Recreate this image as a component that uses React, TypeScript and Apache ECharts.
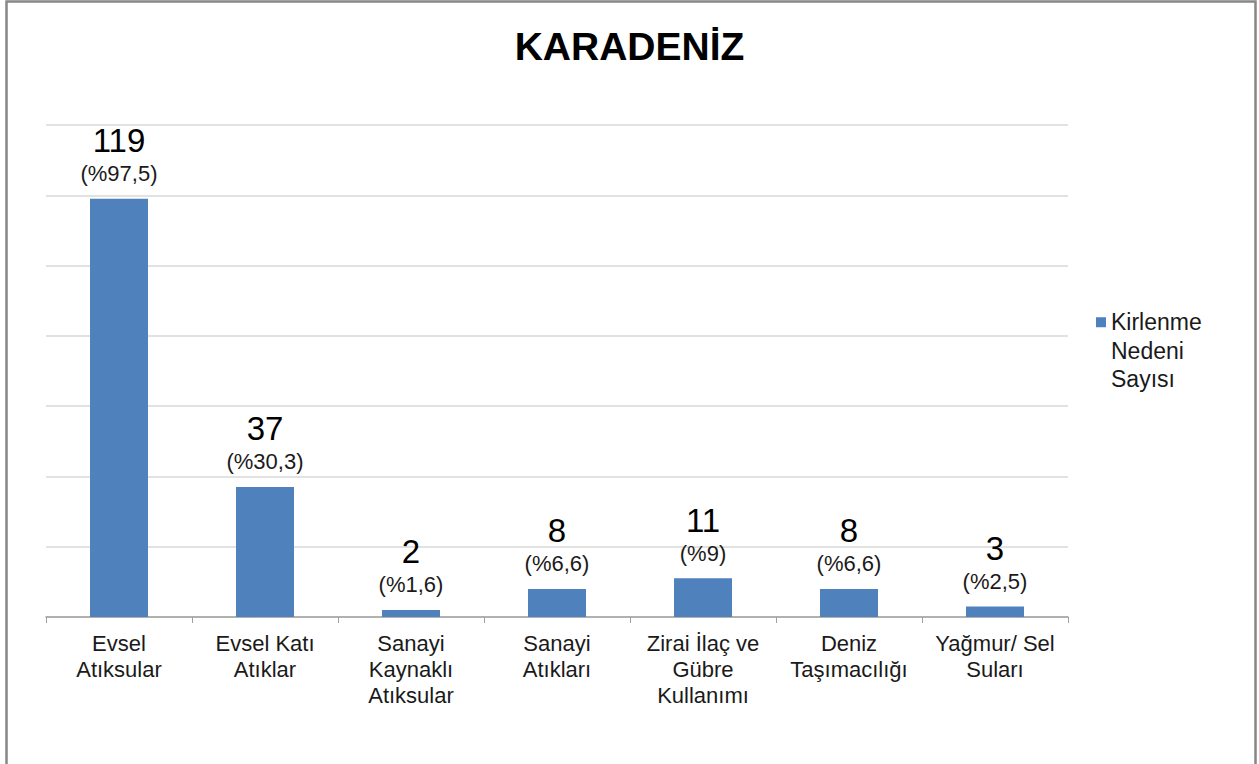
import React, { useEffect, useRef } from "react";
import * as echarts from "echarts";

const categories = [
  "Evsel\nAtıksular",
  "Evsel Katı\nAtıklar",
  "Sanayi\nKaynaklı\nAtıksular",
  "Sanayi\nAtıkları",
  "Zirai İlaç ve\nGübre\nKullanımı",
  "Deniz\nTaşımacılığı",
  "Yağmur/ Sel\nSuları",
];
const counts = [119, 37, 2, 8, 11, 8, 3];
const percents = ["97,5", "30,3", "1,6", "6,6", "9", "6,6", "2,5"];
const seriesName = "Kirlenme Nedeni Sayısı";
const titleText = "KARADENİZ";

export default function App() {
  const ref = useRef<HTMLDivElement>(null);
  useEffect(() => {
    if (!ref.current) return;
    const chart = echarts.init(ref.current, undefined, { renderer: "svg" });
    const font = "'Liberation Sans', Arial, sans-serif";
    chart.setOption({
      animation: false,
      backgroundColor: "#ffffff",
      textStyle: { fontFamily: font },
      title: {
        text: titleText,
        left: "center",
        top: 22,
        textStyle: { fontFamily: font, fontSize: 39, fontWeight: "bold", color: "#000" },
      },
      graphic: [
        {
          type: "rect",
          shape: { x: 6.5, y: 1.5, width: 1249, height: 800 },
          style: { fill: "none", stroke: "#878787", lineWidth: 2.5 },
          silent: true,
        },
      ],
      legend: {
        data: [seriesName],
        left: 1096,
        top: 251,
        padding: 0,
        icon: "rect",
        itemWidth: 10,
        itemHeight: 10,
        formatter: () => "\n\nKirlenme\nNedeni\nSayısı",
        textStyle: { fontFamily: font, fontSize: 23, lineHeight: 28.5, color: "#1a1a1a" },
      },
      grid: { left: 46, right: 191, top: 125, bottom: 147 },
      xAxis: {
        type: "category",
        data: categories,
        axisLine: { lineStyle: { color: "#a0a0a0", width: 1.5 } },
        axisTick: { show: true, length: 6, lineStyle: { color: "#a0a0a0" } },
        axisLabel: {
          interval: 0,
          margin: 13,
          fontFamily: font,
          fontSize: 22,
          lineHeight: 26,
          color: "#1a1a1a",
        },
      },
      yAxis: {
        type: "value",
        min: 0,
        max: 140,
        interval: 20,
        axisLabel: { show: false },
        axisLine: { show: false },
        axisTick: { show: false },
        splitLine: { lineStyle: { color: "#d9d9d9", width: 1.5 } },
      },
      series: [
        {
          name: seriesName,
          type: "bar",
          data: counts,
          barWidth: 58,
          itemStyle: { color: "#4f81bd" },
          label: {
            show: true,
            position: "top",
            distance: 12,
            formatter: (p: any) => `{a|${p.value}}\n{b|(%${percents[p.dataIndex]})}`,
            rich: {
              a: { fontFamily: font, fontSize: 33, lineHeight: 40, color: "#000" },
              b: { fontFamily: font, fontSize: 22, lineHeight: 26, color: "#1a1a1a" },
            },
          },
        },
      ],
    });
    return () => chart.dispose();
  }, []);
  return (
    <div
      ref={ref}
      style={{ position: "absolute", left: 0, top: 0, width: 1259, height: 764 }}
    />
  );
}
